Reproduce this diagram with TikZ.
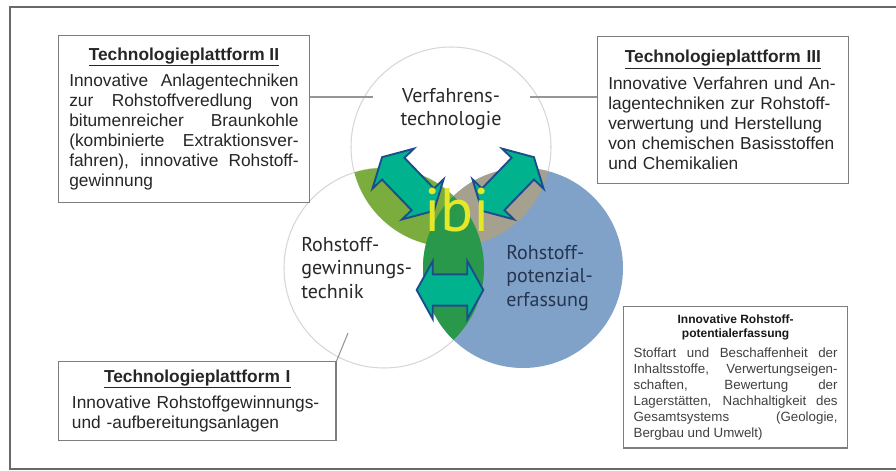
\documentclass[tikz,border=0pt]{standalone}
\usepackage{fontspec}
\setmainfont{Liberation Sans}
\newfontfamily\circfont{PT Sans}
\usepackage{tikz}
\usetikzlibrary{shapes.arrows, positioning}
\definecolor{framegray}{RGB}{105,105,105}
\definecolor{boxgray}{RGB}{125,125,125}
\definecolor{linkgray}{RGB}{150,150,150}
\definecolor{ringgray}{RGB}{215,215,215}
\definecolor{potblue}{RGB}{128,162,200}
\definecolor{lensgreen}{RGB}{122,172,62}
\definecolor{lensdark}{RGB}{42,152,74}
\definecolor{lenstaupe}{RGB}{166,160,142}
\definecolor{arrteal}{RGB}{0,178,142}
\definecolor{arrblue}{RGB}{28,76,140}
\definecolor{ibiyellow}{RGB}{228,232,40}
\definecolor{labgray}{RGB}{40,40,40}
\definecolor{labblue}{RGB}{38,52,80}
\newcommand{\plattitle}[1]{{\centering\bfseries\underline{#1}\par}\vskip 5pt}

\begin{document}
\begin{tikzpicture}[
  x=0.75pt, y=-0.75pt,
  platform/.style={rectangle, draw=boxgray, line width=0.9pt, fill=white,
                   anchor=north west, text width=#1, inner xsep=8pt, inner ysep=6pt,
                   align=justify, text=black!85, font=\fontsize{13}{15}\selectfont},
  ring/.style={draw=ringgray, line width=0.8pt, fill=white},
  circlab/.style={font=\circfont\fontsize{15}{17.5}\selectfont, text=labgray, inner sep=0pt},
  link/.style={draw=linkgray, line width=0.8pt},
  dblarr/.style={double arrow, draw=arrblue, fill=arrteal, line width=1.4pt,
                 inner xsep=0pt, inner ysep=11pt, double arrow head extend=10pt,
                 double arrow tip angle=122, minimum height=#1}
]
  \useasboundingbox (0,0) rectangle (896,471);
  \draw[framegray, line width=0.8pt] (10,7) rectangle (900,469);

  % three fields
  \coordinate (cTop) at (451,147);
  \coordinate (cLeft) at (384,268);
  \coordinate (cBlue) at (523,268);
  \draw[ring] (cTop) circle[radius=100];
  \draw[ring] (cLeft) circle[radius=100];
  \fill[potblue] (cBlue) circle[radius=100];
  \begin{scope}
    \clip (cTop) circle[radius=100];
    \fill[lenstaupe] (cBlue) circle[radius=100];
    \fill[lensgreen] (cLeft) circle[radius=100];
  \end{scope}
  \begin{scope}
    \clip (cLeft) circle[radius=100];
    \fill[lensdark] (cBlue) circle[radius=100];
  \end{scope}

  \node[circlab, align=center] (labTop) at (451,109) {Verfahrens-\\technologie};
  \node[circlab, align=left, anchor=west] (labLeft) at (301,268) {Rohstoff-\\gewinnungs-\\technik};
  \node[circlab, align=left, anchor=west, text=labblue] (labBlue) at (506,278) {Rohstoff-\\potenzial-\\erfassung};

  % arrows and logo
  \node[dblarr=56pt, rotate=-46] (arrTL) at (408,184) {};
  \node[dblarr=56pt, rotate=46] (arrTR) at (508,184) {};
  \node[dblarr=50pt] (arrB) at (450,290) {};
  \node[font=\circfont\fontsize{46}{46}\selectfont, text=ibiyellow, inner sep=0pt] (ibi) at (457,210) {ibi};

  % platforms
  \node[platform=172pt, minimum height=125pt] (boxII) at (58,35)
    {\plattitle{Technologieplattform II}
     Innovative Anlagentechniken\linebreak zur Rohstoffveredlung von\linebreak
     bitumenreicher Braunkohle\linebreak (kombinierte Extraktionsver-\linebreak
     fahren), innovative Rohstoff-\linebreak gewinnung};
  \node[platform=172pt, align=left, minimum height=110pt] (boxIII) at (597,36)
    {\plattitle{Technologieplattform III}
     Innovative Verfahren und An-\newline lagentechniken zur Rohstoff-\newline
     verwertung und Herstellung\newline von chemischen Basisstoffen\newline
     und Chemikalien};
  \node[platform=188pt, align=left, inner xsep=10pt, minimum height=59pt] (boxI) at (58,361)
    {\plattitle{Technologieplattform I}
     Innovative Rohstoffgewinnungs-\newline und -aufbereitungsanlagen};
  \node[platform=153pt, inner xsep=7.5pt, minimum height=102pt, text=black!75,
        font=\fontsize{10}{12}\selectfont] (boxIV) at (623,306)
    {{\centering\bfseries\color{black!90}\fontsize{9}{10.5}\selectfont Innovative Rohstoff-\\potentialerfassung\par}\vskip 3pt
     Stoffart und Beschaffenheit der\linebreak Inhaltsstoffe, Verwertungseigen-\linebreak
     schaften, Bewertung der\linebreak Lagerstätten, Nachhaltigkeit des\linebreak
     Gesamtsystems (Geologie,\linebreak Bergbau und Umwelt)};

  % connectors
  \coordinate (endII) at (373,97);
  \coordinate (endIII) at (530,97);
  \coordinate (endI) at (348,333);
  \draw[link] (boxII.east |- endII) -- (endII);
  \draw[link] (boxIII.west |- endIII) -- (endIII);
  \draw[link] (boxI.north east) -- (endI);
\end{tikzpicture}
\end{document}
